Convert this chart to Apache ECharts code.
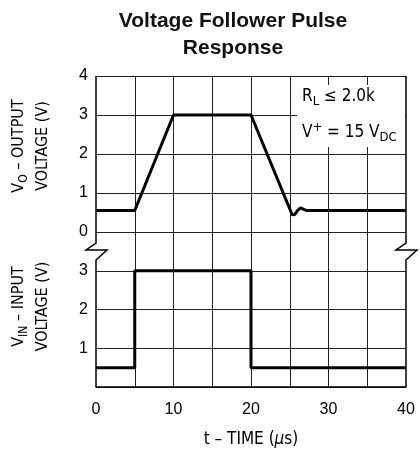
<!DOCTYPE html>
<html><head><meta charset="utf-8">
<script src="https://cdn.jsdelivr.net/npm/echarts@6/dist/echarts.min.js"></script>
<style>html,body{margin:0;padding:0;background:#fff}#c{width:420px;height:457px}</style>
</head><body><div id="c"></div>
<script>
// ---- data ----
const timeOutput = [0, 5, 10, 20, 25.3, 25.6, 26.0, 26.4, 26.8, 27.2, 40];
const voltOutput = [0.55, 0.55, 3, 3, 0.45, 0.44, 0.55, 0.62, 0.58, 0.55, 0.55];
const timeInput = [0, 5, 5, 20, 20, 40];
const voltInput = [0.5, 0.5, 3, 3, 0.5, 0.5];
const xTickLabels = [0, 10, 20, 30, 40];
const outTickLabels = [0, 1, 2, 3, 4];
const inTickLabels = [1, 2, 3];

const FONT = "'Liberation Sans Narrow', 'DejaVu Sans Condensed', sans-serif";
const DIGIT = "'Liberation Sans', Arial, sans-serif";
const GRID = '#222';

const outData = timeOutput.map((t, i) => [t, voltOutput[i]]);
const inData = timeInput.map((t, i) => [t, voltInput[i]]);

// split line colours: hide the outer borders (drawn separately with the break marks)
const xSplitColors = [];
for (let v = 0; v <= 40; v += 5) xSplitColors.push(v === 0 || v === 40 ? 'rgba(0,0,0,0)' : GRID);

const chart = echarts.init(document.getElementById('c'), null, {renderer: 'canvas'});

const nameRich = {
  n: {fontFamily: FONT, fontSize: 16, color: '#000'},
  s: {fontFamily: FONT, fontSize: 12, color: '#000', padding: [9, 0, 0, 0]}
};

const option = {
  backgroundColor: '#fff',
  animation: false,
  title: {
    text: 'Voltage Follower Pulse\nResponse',
    left: 228, top: 3, textAlign: 'center',
    textStyle: {fontFamily: "'Liberation Sans', Arial, sans-serif", fontWeight: 'bold', fontSize: 21, lineHeight: 27, color: '#111'}
  },
  grid: [
    {left: 96, right: 14, top: 76, height: 156, containLabel: false, outerBoundsMode: 'none'},
    {left: 96, right: 14, top: 232, height: 155, containLabel: false, outerBoundsMode: 'none'}
  ],
  xAxis: [
    {gridIndex: 0, type: 'value', min: 0, max: 40, interval: 5,
      axisLine: {show: false}, axisTick: {show: false}, axisLabel: {show: false},
      splitLine: {show: true, lineStyle: {color: xSplitColors, width: 1}}},
    {gridIndex: 1, type: 'value', min: 0, max: 40, interval: 5,
      axisLine: {show: true, lineStyle: {color: '#000', width: 1.5}}, axisTick: {show: false},
      axisLabel: {show: true, margin: 15, fontFamily: DIGIT, fontSize: 16, color: '#000',
        formatter: v => xTickLabels.includes(v) ? String(v) : ''},
      splitLine: {show: true, lineStyle: {color: xSplitColors, width: 1}},
      name: '{n|t \u2013 TIME (}{i|\u00b5}{n|s)}', nameLocation: 'middle', nameGap: 44,
      nameTextStyle: {rich: {n: {fontFamily: FONT, fontSize: 17, color: '#000'}, i: {fontFamily: FONT, fontSize: 17, fontStyle: 'italic', color: '#000'}}}}
  ],
  yAxis: [
    {gridIndex: 0, type: 'value', min: 0, max: 4, interval: 1,
      axisLine: {show: false}, axisTick: {show: false},
      axisLabel: {margin: 8, fontFamily: DIGIT, fontSize: 16, color: '#000',
        formatter: v => outTickLabels.includes(v) ? String(v) : ''},
      splitLine: {show: true, lineStyle: {color: GRID, width: 1}},
      name: '{n|V}{s|O}{n| \u2013 OUTPUT}\n{n|VOLTAGE (V)}', nameLocation: 'middle', nameGap: 41, nameRotate: 90,
      nameTextStyle: {lineHeight: 24, padding: [0, 0, 0, 16], rich: nameRich}},
    {gridIndex: 1, type: 'value', min: 0, max: 4, interval: 1,
      axisLine: {show: false}, axisTick: {show: false},
      axisLabel: {margin: 8, fontFamily: DIGIT, fontSize: 16, color: '#000',
        formatter: v => inTickLabels.includes(v) ? String(v) : ''},
      splitLine: {show: true, lineStyle: {color: GRID, width: 1}},
      name: '{n|V}{s|IN}{n| \u2013 INPUT}\n{n|VOLTAGE (V)}', nameLocation: 'middle', nameGap: 41, nameRotate: 90,
      nameTextStyle: {lineHeight: 24, padding: [0, 0, 0, 6], rich: nameRich}}
  ],
  series: [
    {type: 'line', xAxisIndex: 0, yAxisIndex: 0, data: outData, symbol: 'none',
      lineStyle: {color: '#000', width: 3}, z: 5},
    {type: 'line', xAxisIndex: 1, yAxisIndex: 1, data: inData, symbol: 'none',
      lineStyle: {color: '#000', width: 3}, z: 5}
  ]
};
chart.setOption(option);

// borders with axis-break marks, computed from the axes
const tl = chart.convertToPixel({xAxisIndex: 0, yAxisIndex: 0}, [0, 4]);
const z0 = chart.convertToPixel({xAxisIndex: 0, yAxisIndex: 0}, [40, 0]);
const br = chart.convertToPixel({xAxisIndex: 1, yAxisIndex: 1}, [40, 0]);
const x0 = tl[0], x1 = br[0], yTop = tl[1], yZero = z0[1], yBot = br[1];
function breakLine(x) {
  return [[x, yTop], [x, yZero + 11], [x - 10, yZero + 18], [x + 11, yZero + 18], [x, yZero + 28], [x, yBot]];
}
const lineTxt = {fontFamily: FONT, fontSize: 17, color: '#000'};
chart.setOption({
  graphic: [
    {type: 'polyline', shape: {points: breakLine(x0)}, style: {stroke: '#000', lineWidth: 1.5, fill: null}, z: 50},
    {type: 'polyline', shape: {points: breakLine(x1)}, style: {stroke: '#000', lineWidth: 1.5, fill: null}, z: 50},
    {type: 'rect', shape: {x: 297, y: 85, width: x1 - 297 - 1, height: 62}, style: {fill: '#fff'}, z: 60},
    {type: 'text', x: 302, y: 97, z: 70, style: {
      text: '{n|R}{s|L}{n| \u2264 2.0k}', verticalAlign: 'middle',
      rich: {n: lineTxt, s: {fontFamily: FONT, fontSize: 13, color: '#000', padding: [10, 0, 0, 0]}}}},
    {type: 'text', x: 302, y: 133, z: 70, style: {
      text: '{n|V}{p|+}{n| = 15 V}{s|DC}', verticalAlign: 'middle',
      rich: {n: lineTxt, p: {fontFamily: FONT, fontSize: 13, color: '#000', padding: [0, 0, 10, 0]},
        s: {fontFamily: FONT, fontSize: 13, color: '#000', padding: [10, 0, 0, 0]}}}}
  ]
});
</script></body></html>
